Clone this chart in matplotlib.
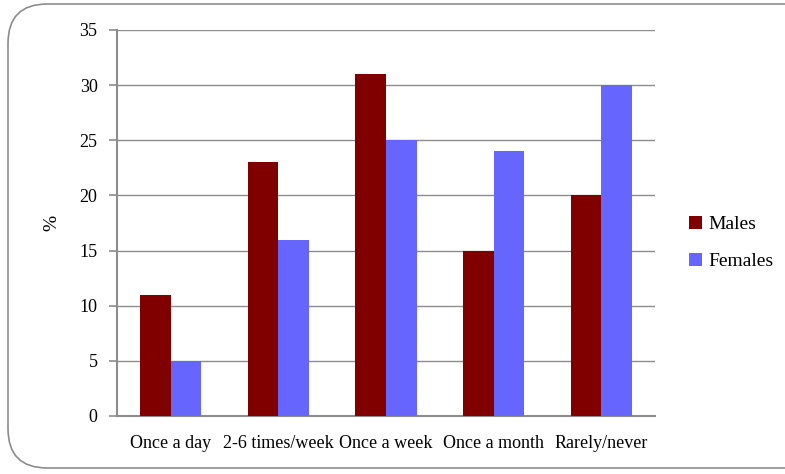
import matplotlib
matplotlib.use("Agg")
import matplotlib.pyplot as plt
from matplotlib.patches import FancyBboxPatch
import numpy as np

categories = ["Once a day", "2-6 times/week", "Once a week", "Once a month", "Rarely/never"]
males = [11, 23, 31, 15, 20]
females = [5, 16, 25, 24, 30]
yticks = [0, 5, 10, 15, 20, 25, 30, 35]

plt.rcParams['font.family'] = ['Liberation Serif', 'DejaVu Serif']

fig = plt.figure(figsize=(7.85, 4.74), dpi=100)
border = FancyBboxPatch((8/785, 6/474), 830/785, 464/474, boxstyle="round,pad=0,rounding_size=0.05",
                        transform=fig.transFigure, facecolor='none', edgecolor='#8c8c8c', linewidth=1.2,
                        mutation_aspect=785/474, zorder=-1)
fig.patches.append(border)

ax = fig.add_axes([117/785, 1-416/474, (655-117)/785, (416-30)/474])
ax.patch.set_alpha(0)
x = np.arange(len(categories))
w = 0.285
ax.bar(x - w/2, males, w, color='#800000', label='Males', zorder=3)
ax.bar(x + w/2, females, w, color='#6666FF', label='Females', zorder=3)

ax.set_xlim(-0.5, len(categories) - 0.5)
ax.set_ylim(0, 35)
ax.set_yticks(yticks)
ax.yaxis.grid(True, color='#8c8c8c', linewidth=1.0, zorder=0)
ax.set_axisbelow(True)
for s in ['top', 'right']:
    ax.spines[s].set_visible(False)
for s in ['left', 'bottom']:
    ax.spines[s].set_color('#8c8c8c')
    ax.spines[s].set_linewidth(1.5)
ax.set_xticks(x)
ax.set_xticklabels(categories, fontsize=13)
ax.tick_params(axis='x', length=0, pad=14)
ax.tick_params(axis='y', length=6, color='#8c8c8c', width=1.2, labelsize=13, pad=8)
ax.set_ylabel('%', fontsize=14, labelpad=14)

fig.legend(loc='center left', bbox_to_anchor=(671/785, 1-243/474), frameon=False, fontsize=14,
           handlelength=0.7, handleheight=0.7, handletextpad=0.3, labelspacing=1.0)

fig.savefig('out.png', dpi=100)
